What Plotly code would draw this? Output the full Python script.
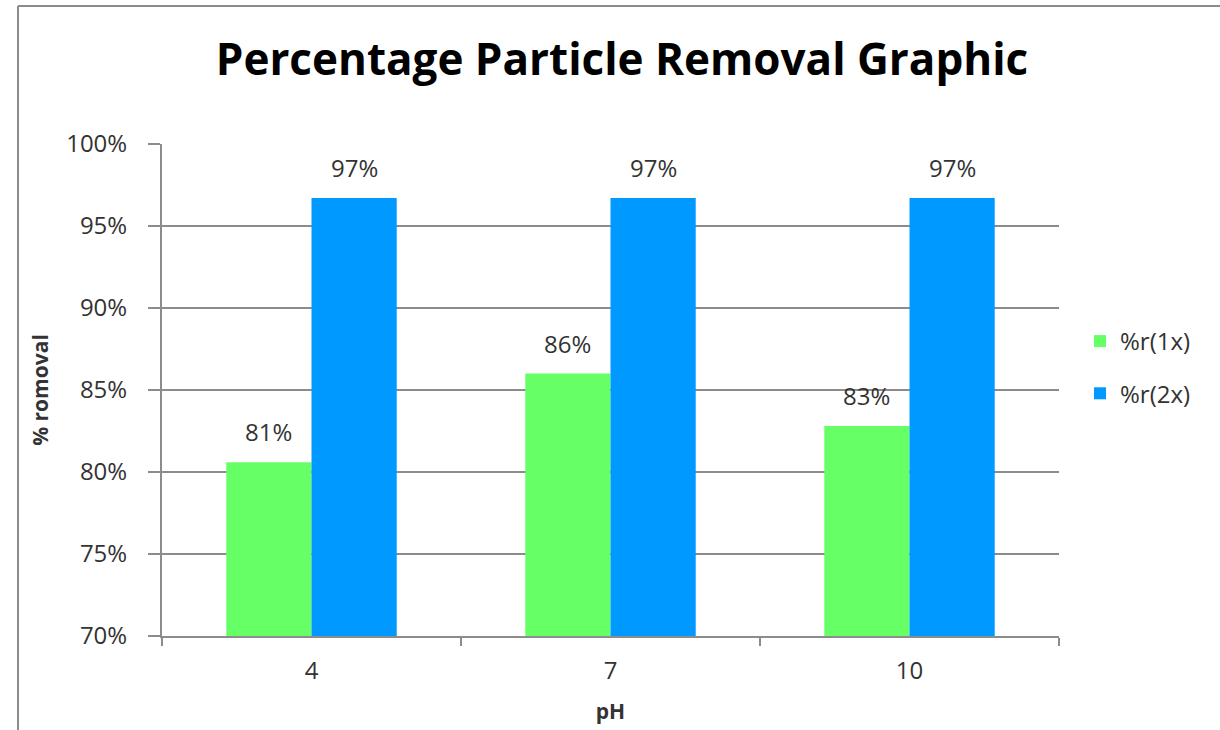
import plotly.graph_objects as go

# pH levels tested and removal fractions for single and double dose
ph_levels = ["4", "7", "10"]
removal_1x = [0.806, 0.860, 0.828]
removal_2x = [0.967, 0.967, 0.967]
series_names = ["%r(1x)", "%r(2x)"]
y_ticks = [0.70, 0.75, 0.80, 0.85, 0.90, 0.95, 1.00]

W, H = 1220, 730
L, R, T, B = 162, 161, 144, 94
pw, ph = W - L - R, H - T - B
BARGAP = 0.43

FONT = "Open Sans, sans-serif"
label_font = dict(family=FONT, size=24, color="#333333")

fig = go.Figure()
series = [
    (series_names[0], removal_1x, "#66ff66", "a"),
    (series_names[1], removal_2x, "#0099ff", "b"),
]
bar_px = (pw / len(ph_levels)) * (1 - BARGAP) / len(series)
for i, (name, vals, color, grp) in enumerate(series):
    fig.add_trace(go.Bar(
        x=ph_levels, y=vals, name=name, marker=dict(color=color, line=dict(width=0)),
        legendgroup=grp,
    ))
    # value labels sitting above each bar (x given as category index)
    shift = (i - (len(series) - 1) / 2) * bar_px
    for idx, v in enumerate(vals):
        fig.add_annotation(x=idx, y=v, text=f"{v:.0%}", showarrow=False,
                           xshift=shift, yshift=12, yanchor="bottom",
                           font=label_font)

# chart frame (left and top edges)
fx0 = (18 - L) / pw
fy1 = 1 + (T - 6) / ph
fig.add_shape(type="line", xref="paper", yref="paper", x0=fx0, x1=fx0, y0=-1, y1=fy1,
              line=dict(color="#8c8c8c", width=2))
fig.add_shape(type="line", xref="paper", yref="paper", x0=fx0, x1=2, y0=fy1, y1=fy1,
              line=dict(color="#8c8c8c", width=2))

fig.update_layout(
    width=W, height=H,
    margin=dict(l=L, r=R, t=T, b=B, autoexpand=False),
    paper_bgcolor="white", plot_bgcolor="white",
    barmode="group", bargap=BARGAP, bargroupgap=0,
    title=dict(text="<b>Percentage Particle Removal Graphic</b>", x=622 / W, xanchor="center",
               y=1 - 60 / H, yanchor="middle",
               font=dict(family=FONT, size=44, color="black")),
    showlegend=True,
    legend=dict(x=1 + (1080 - L - pw) / pw, xanchor="left", y=1 - (319 - T) / ph, yanchor="top",
                traceorder="grouped", tracegroupgap=18,
                font=dict(family=FONT, size=24, color="#333333"),
                bgcolor="rgba(0,0,0,0)"),
    font=dict(family=FONT),
)
fig.update_yaxes(
    range=[0.70, 1.00], tickvals=y_ticks, tickformat=".0%",
    tickfont=label_font, showgrid=True, gridcolor="#8c8c8c", gridwidth=2,
    showline=True, linecolor="#8c8c8c", linewidth=2,
    ticks="outside", ticklen=12, tickcolor="#8c8c8c", tickwidth=2,
    ticklabelstandoff=16,
    title=dict(text="<b>% romoval</b>", font=dict(family=FONT, size=21, color="#333333"),
               standoff=12),
    zeroline=False,
)
fig.update_xaxes(
    type="category", range=[-0.5, len(ph_levels) - 0.5],
    tickfont=label_font, showline=True, linecolor="#8c8c8c", linewidth=2,
    ticks="outside", ticklen=8, tickcolor="#8c8c8c", tickwidth=2, tickson="boundaries",
    ticklabelstandoff=12,
    title=dict(text="<b>pH</b>", font=dict(family=FONT, size=21, color="#333333"),
               standoff=20),
)

fig.write_html("out.html")
